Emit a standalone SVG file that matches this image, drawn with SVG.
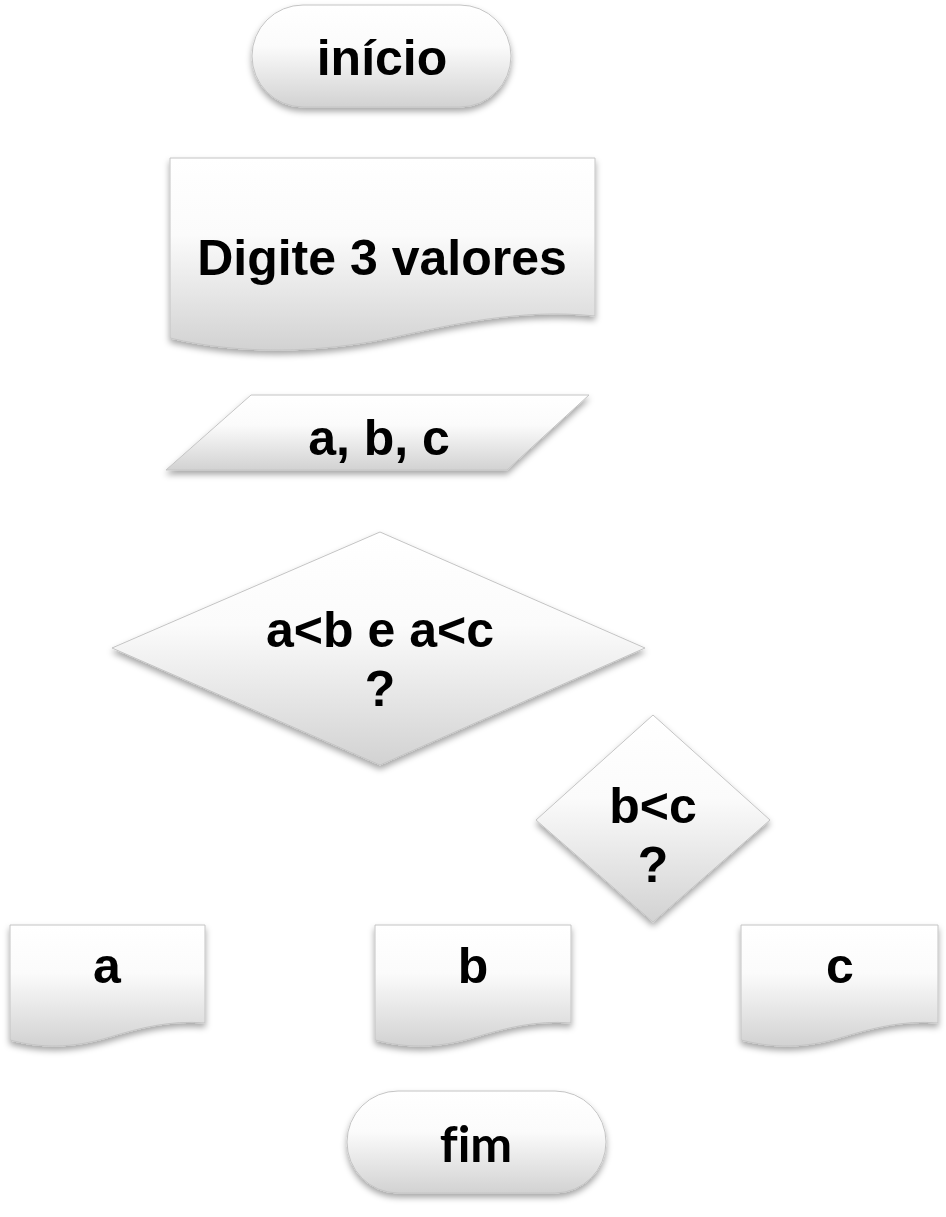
<svg xmlns="http://www.w3.org/2000/svg" width="946" height="1217" viewBox="0 0 946 1217">
<defs>
<linearGradient id="g" x1="0" y1="0" x2="0" y2="1">
<stop offset="0" stop-color="#ffffff"/>
<stop offset="0.4" stop-color="#fbfbfb"/>
<stop offset="1" stop-color="#d2d2d2"/>
</linearGradient>
<filter id="sh" x="-10%" y="-10%" width="120%" height="130%">
<feDropShadow dx="0" dy="4" stdDeviation="3" flood-color="#000" flood-opacity="0.35"/>
</filter>
</defs>
<style>
.s{fill:url(#g);stroke:#c4c4c4;stroke-width:1;filter:url(#sh)}
.t{font-family:"Liberation Sans",Arial,sans-serif;font-weight:bold;font-size:50px;fill:#000;text-anchor:middle}
.f{font-family:Lato,"Open Sans",sans-serif;font-weight:bold;font-size:50px;fill:#000;text-anchor:middle;font-variant-ligatures:none}
.c{stroke:#ffffff;stroke-width:2;fill:none}
</style>
<g id="connectors">
<line class="c" x1="382" y1="108" x2="382" y2="158"/>
<line class="c" x1="382" y1="345" x2="382" y2="395"/>
<line class="c" x1="380" y1="472" x2="380" y2="532"/>
<polyline class="c" points="112,648 107,648 107,925"/>
<polyline class="c" points="645,648 653,648 653,715"/>
<polyline class="c" points="536,820 473,820 473,925"/>
<polyline class="c" points="770,820 840,820 840,925"/>
<line class="c" x1="107" y1="1042" x2="107" y2="1080"/>
<line class="c" x1="473" y1="1042" x2="473" y2="1092"/>
<line class="c" x1="840" y1="1042" x2="840" y2="1080"/>
</g>
<g id="inicio">
<rect class="s" x="252" y="5" width="259" height="102" rx="51" ry="51"/>
<text class="t" x="382" y="75">início</text>
</g>
<g id="digite">
<path class="s" d="M170,158 H595 V316 C520,308 450,325 390,338 C320,353 240,355 170,338 Z"/>
<text class="t" x="382" y="275">Digite 3 valores</text>
</g>
<g id="entrada">
<polygon class="s" points="251,395 589,395 507,470 166,470"/>
<text class="t" x="379" y="455">a, b, c</text>
</g>
<g id="dec1">
<polygon class="s" points="380,532 645,648 380,765 112,648"/>
<text class="t" x="380" y="647">a&lt;b e a&lt;c</text>
<text class="t" x="380" y="706">?</text>
</g>
<g id="dec2">
<polygon class="s" points="653,715 770,820 653,922 536,820"/>
<text class="t" x="653" y="823">b&lt;c</text>
<text class="t" x="653" y="882">?</text>
</g>
<g id="outa">
<path class="s" d="M10,925 H205 V1023 C170,1020 140,1028 110,1037 C70,1049 40,1048 10,1040 Z"/>
<text class="t" x="107" y="983">a</text>
</g>
<g id="outb">
<path class="s" d="M375,925 H571 V1023 C536,1020 506,1028 476,1037 C436,1049 406,1048 375,1040 Z"/>
<text class="t" x="473" y="983">b</text>
</g>
<g id="outc">
<path class="s" d="M741,925 H938 V1023 C903,1020 873,1028 843,1037 C803,1049 773,1048 741,1040 Z"/>
<text class="t" x="840" y="983">c</text>
</g>
<g id="fim">
<rect class="s" x="347" y="1091" width="259" height="102" rx="51" ry="51"/>
<text class="f" x="476" y="1162">fim</text>
</g>
</svg>
